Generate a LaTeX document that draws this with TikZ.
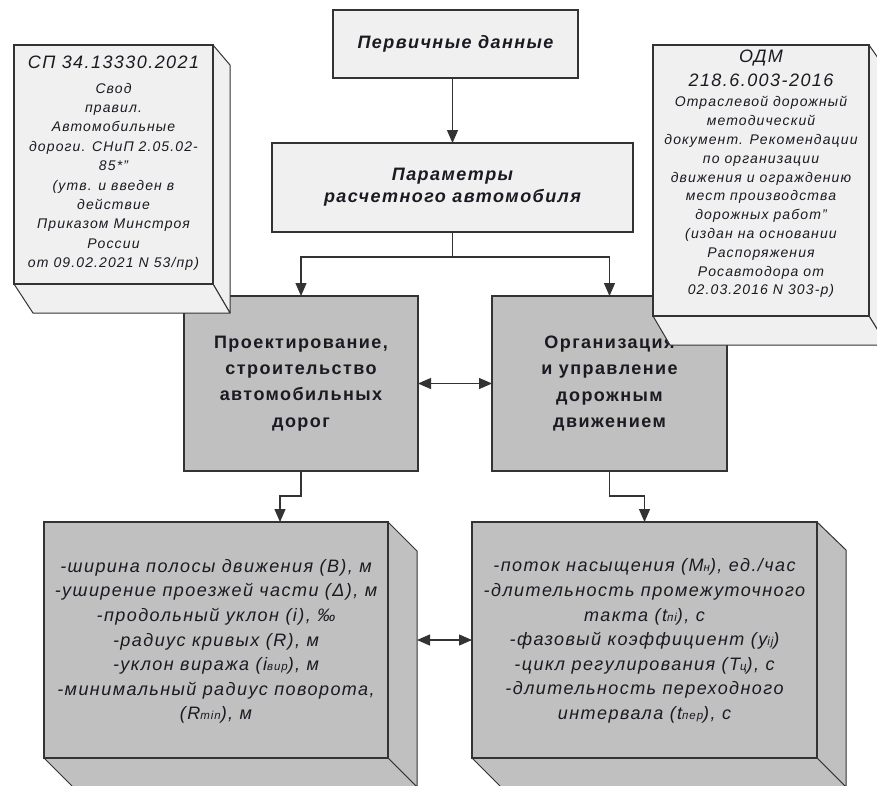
\documentclass[tikz,border=0pt]{standalone}
\usepackage{fontspec}
\setmainfont{Liberation Sans}[LetterSpace=8]
\usetikzlibrary{arrows.meta,calc}
\newcommand\mysub[1]{{\fontsize{11.5}{11.5}\selectfont #1}}
\definecolor{lightf}{HTML}{F0F0F0}
\definecolor{grayf}{HTML}{C0C0C0}
\definecolor{linec}{HTML}{333333}
\definecolor{txt}{HTML}{1A1A22}
\begin{document}
\begin{tikzpicture}[x=1pt,y=-1pt,
  box/.style={draw=linec, line width=1.4pt, inner sep=0pt, outer sep=0pt, align=center, text=txt},
  lbox/.style={box, fill=lightf},
  gbox/.style={box, fill=grayf},
  face/.style={draw=linec, line width=1pt, line join=round},
  txtnode/.style={inner sep=0pt, align=center, text=txt},
  arr/.style={draw=linec, line width=1.2pt, -{Triangle[length=13pt,width=11pt]}},
  darr/.style={draw=linec, line width=1.2pt, {Triangle[length=13pt,width=11pt]}-{Triangle[length=13pt,width=11pt]}},
]
\useasboundingbox (0,0) rectangle (877,785);
\clip (0,0) rectangle (877,785);
\fill[white] (0,0) rectangle (877,785);

% top boxes
\node[lbox, minimum width=245pt, minimum height=68pt, font=\fontsize{18}{22}\selectfont\bfseries\itshape] (t) at (455.5,44) {Первичные данные};
\node[lbox, minimum width=361pt, minimum height=89pt, font=\fontsize{18}{22}\selectfont\bfseries\itshape] (p) at (452.5,187.5) {Параметры\\ расчетного автомобиля};

% middle gray boxes
\node[gbox, minimum width=234pt, minimum height=175pt, font=\fontsize{18}{26.3}\selectfont\bfseries] (g1) at (301,383.5) {Проектирование,\\ строительство\\ автомобильных\\ дорог};
\node[gbox, minimum width=235pt, minimum height=175pt, font=\fontsize{18}{26.3}\selectfont\bfseries] (g2) at (609.5,383.5) {Организация\\ и управление\\ дорожным\\ движением};

% SP 3D box
\node[lbox, minimum width=199pt, minimum height=239pt] (sp) at (113.5,164.5) {};
\filldraw[face, fill=lightf] (sp.north east) -- ++(17,20) -- ($(sp.south east)+(17,29)$) -- (sp.south east) -- cycle;
\filldraw[face, fill=lightf] (sp.south west) -- (sp.south east) -- ++(17,29) -- ($(sp.south west)+(19,29)$) -- cycle;
\draw[draw=linec, line width=1.4pt] (sp.north west) rectangle (sp.south east);
\node[txtnode, font=\fontsize{14}{19.4}\selectfont\itshape] (sptext) at (113.5,163) {{\fontsize{18}{22}\selectfont СП 34.13330.2021}\\[5.6pt] Свод\\ правил.\\ Автомобильные\\ дороги. СНиП 2.05.02-\\ 85*"\\ (утв. и введен в\\ действие\\ Приказом Минстроя\\ России\\ от 09.02.2021 N 53/пр)};

% ODM 3D box
\node[lbox, minimum width=216pt, minimum height=271pt] (odm) at (761,180.5) {};
\filldraw[face, fill=lightf] (odm.north east) -- ++(18,26) -- ($(odm.south east)+(18,29)$) -- (odm.south east) -- cycle;
\filldraw[face, fill=lightf] (odm.south west) -- (odm.south east) -- ++(18,29) -- ($(odm.south west)+(17,29)$) -- cycle;
\draw[draw=linec, line width=1.4pt] (odm.north west) rectangle (odm.south east);
\node[txtnode, font=\fontsize{14}{18.8}\selectfont\itshape] (odmtext) at (761,174) {{\fontsize{18}{22}\selectfont ОДМ}\\[5.2pt] {\fontsize{18}{22}\selectfont 218.6.003-2016}\\[1.2pt] Отраслевой дорожный\\ методический\\ документ. Рекомендации\\ по организации\\ движения и ограждению\\ мест производства\\ дорожных работ"\\ (издан на основании\\ Распоряжения\\ Росавтодора от\\ 02.03.2016 N 303-р)};

% bottom 3D boxes
\node[gbox, minimum width=344pt, minimum height=236pt] (b1) at (216,640) {};
\filldraw[face, fill=grayf] (b1.north east) -- ++(29,29) -- ($(b1.south east)+(29,29)$) -- (b1.south east) -- cycle;
\filldraw[face, fill=grayf] (b1.south west) -- (b1.south east) -- ++(29,29) -- ($(b1.south west)+(29,29)$) -- cycle;
\draw[draw=linec, line width=1.4pt] (b1.north west) rectangle (b1.south east);
\node[txtnode, font=\fontsize{18}{24.6}\selectfont\itshape] (b1text) at (216,641.5) {-ширина полосы движения (В), м\\ -уширение проезжей части (Δ), м\\ -продольный уклон (i), ‰\\ -радиус кривых (R), м\\ -уклон виража (i\mysub{вир}), м\\ -минимальный радиус поворота,\\ (R\mysub{min}), м};

\node[gbox, minimum width=345pt, minimum height=236pt] (b2) at (644.5,640) {};
\filldraw[face, fill=grayf] (b2.north east) -- ++(29,28) -- ($(b2.south east)+(29,29)$) -- (b2.south east) -- cycle;
\filldraw[face, fill=grayf] (b2.south west) -- (b2.south east) -- ++(29,29) -- ($(b2.south west)+(29,29)$) -- cycle;
\draw[draw=linec, line width=1.4pt] (b2.north west) rectangle (b2.south east);
\node[txtnode, font=\fontsize{18}{24.6}\selectfont\itshape] (b2text) at (644.5,641) {-поток насыщения (М\mysub{н}), ед./час\\ -длительность промежуточного\\ такта (t\mysub{пi}), с\\ -фазовый коэффициент (y\mysub{ij})\\ -цикл регулирования (Т\mysub{ц}), с\\ -длительность переходного\\ интервала (t\mysub{пер}), с};

% connectors
\coordinate (b1in) at ($(b1.north west)+(236,0)$);
\coordinate (b1r) at ($(b1.east)+(29,0)$);
\draw[arr] (p.north |- t.south) -- (p.north);
\draw[arr] (p.south) -- ++(0,25) -| (g1.north);
\draw[arr] (p.south) -- ++(0,25) -| (g2.north);
\draw[darr] (g1.east) -- (g2.west);
\draw[arr] (g1.south) -- ++(0,25) -| (b1in);
\draw[arr] (g2.south) -- ++(0,25) -| (b2.north);
\draw[darr] (b1r) -- (b2.west);
\end{tikzpicture}
\end{document}
